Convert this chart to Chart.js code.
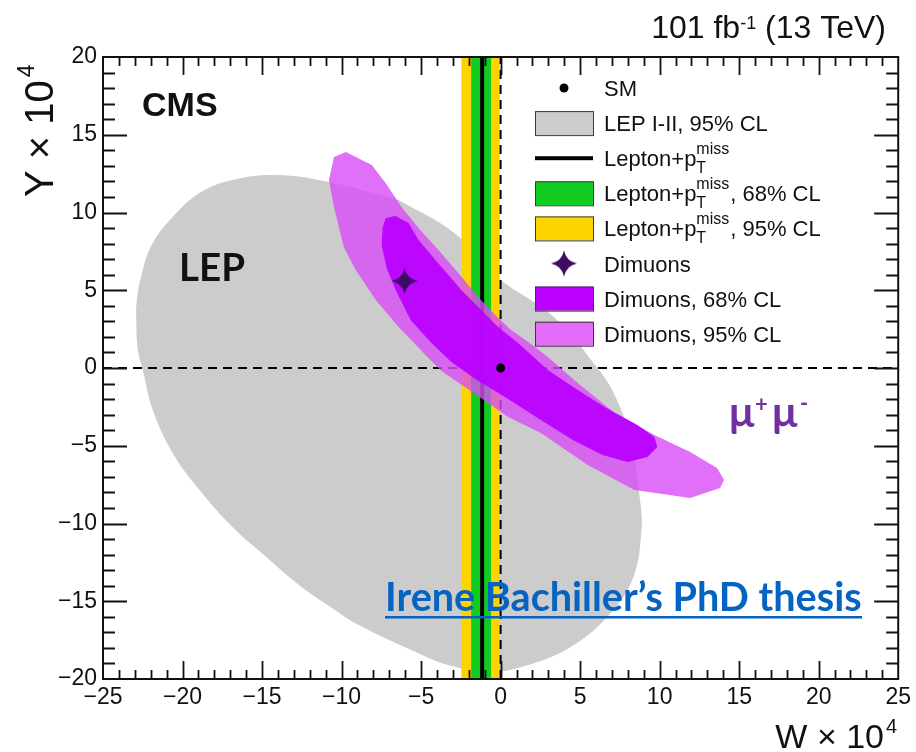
<!DOCTYPE html>
<html>
<head>
<meta charset="utf-8">
<script src="https://cdn.jsdelivr.net/npm/chart.js@4.4.0/dist/chart.umd.min.js"></script>
<style>
  html, body { margin: 0; padding: 0; background: #fff; }
</style>
</head>
<body>
<canvas id="myChart" width="916" height="752" style="width:916px;height:752px;display:block"></canvas>
<script>
// axis ranges (W x 10^4, Y x 10^4)
var xRange = [-25, 25];
var yRange = [-20, 20];

// LEP I-II 95% CL region, starts under the dimuon band
var lepContour = [
    [-6.41, 10.80], [-10.79, 11.96], [-14.11, 12.41], [-16.86, 12.09], [-18.93, 11.25],
    [-20.62, 9.71], [-21.87, 8.04], [-22.50, 6.30], [-22.87, 4.37], [-22.90, 2.89],
    [-22.81, 1.16], [-22.50, -0.13], [-21.87, -2.70], [-20.62, -5.47], [-18.93, -7.85],
    [-16.86, -10.23], [-14.74, -12.15], [-12.67, -13.95], [-10.61, -15.43], [-8.92, -16.53],
    [-5.35, -18.26], [-3.29, -19.10], [-0.84, -19.55], [1.28, -19.23], [4.41, -17.94],
    [6.92, -15.76], [8.35, -13.44], [8.86, -10.42], [8.79, -8.68], [8.17, -4.63],
    [7.17, -1.74], [6.04, 0.06], [3.35, 3.28], [-0.22, 5.85], [-2.91, 8.68]
];

// dimuon contours
var dimuon95 = [
    [-10.48, 13.57], [-9.73, 13.89], [-8.10, 13.05], [-7.23, 11.90], [-6.23, 10.35],
    [-5.16, 9.00], [-3.91, 7.59], [-2.66, 6.11], [-1.41, 4.57], [-0.34, 3.41],
    [0.66, 2.44], [1.91, 1.54], [2.97, 0.71], [4.85, -0.96], [7.17, -2.89],
    [9.67, -4.31], [11.92, -5.40], [13.61, -6.43], [14.05, -7.20], [13.80, -7.72],
    [11.92, -8.36], [8.42, -7.85], [5.48, -6.24], [2.53, -4.18], [0.47, -3.15],
    [-1.60, -1.67], [-3.72, -0.19], [-4.72, 0.84], [-6.41, 2.64], [-7.85, 4.37],
    [-9.11, 6.30], [-9.86, 7.78], [-10.48, 10.35], [-10.79, 12.09]
];
var dimuon68 = [
    [-7.23, 9.65], [-6.60, 9.77], [-5.79, 9.32], [-5.16, 8.23], [-4.10, 6.95],
    [-2.47, 5.02], [-1.22, 3.73], [-0.16, 2.64], [1.10, 1.61], [2.97, -0.13],
    [4.85, -1.41], [6.54, -2.51], [8.60, -3.67], [9.67, -4.44], [9.86, -5.08],
    [9.23, -5.72], [7.98, -6.05], [6.41, -5.59], [4.54, -4.63], [2.53, -3.34],
    [0.47, -1.99], [-1.60, -0.71], [-3.10, 0.39], [-4.35, 1.61], [-5.66, 3.09],
    [-6.54, 4.89], [-7.17, 6.43], [-7.48, 7.91], [-7.42, 9.00]
];
var dimuonBest = [-6.04, 5.6];
var smPoint = [0, 0];

// lepton + pT miss : best fit and bands in W
var leptonBest = -1.16;
var lepton68 = [-1.85, -0.60];
var lepton95 = [-2.47, -0.05];

var legendLabels = ['SM', 'LEP I-II, 95% CL', 'Lepton+p', 'Lepton+p', 'Lepton+p',
    'Dimuons', 'Dimuons, 68% CL', 'Dimuons, 95% CL'];
var legendSuffix = ['', '', '', ', 68% CL', ', 95% CL', '', '', ''];
var legendKinds = ['dot', 'box', 'line', 'box', 'box', 'star', 'box', 'box'];

var colGray = '#cccccc';
var colGreen = '#12cc22';
var colYellow = '#fdd400';
var colDark = 'rgba(186, 0, 255, 0.93)';
var colPink = 'rgba(216, 76, 246, 0.8)';
var colStar = '#3d0b63';
var legendColors = ['#000', colGray, '#000', colGreen, colYellow, colStar, '#bb00ff', '#e46cf8'];

function pts(list) {
    var out = list.map(function (p) { return { x: p[0], y: p[1] }; });
    out.push({ x: list[0][0], y: list[0][1] });
    return out;
}
function band(edges) {
    return pts([[edges[0], yRange[0]], [edges[1], yRange[0]], [edges[1], yRange[1]], [edges[0], yRange[1]]]);
}

// four pointed star marker
function makeStar(size, color) {
    var c = document.createElement('canvas');
    c.width = size; c.height = size;
    var g = c.getContext('2d');
    var m = size / 2, r = size / 2 - 1, k = size * 0.08;
    g.fillStyle = color;
    g.beginPath();
    g.moveTo(m, m - r);
    g.quadraticCurveTo(m + k, m - k, m + r, m);
    g.quadraticCurveTo(m + k, m + k, m, m + r);
    g.quadraticCurveTo(m - k, m + k, m - r, m);
    g.quadraticCurveTo(m - k, m - k, m, m - r);
    g.fill();
    return c;
}
var starImg = makeStar(28, colStar);

function polyDataset(data, color, order, tension) {
    return {
        data: data, order: order, fill: 'shape', backgroundColor: color,
        borderWidth: 0, borderColor: 'rgba(0,0,0,0)', pointRadius: 0, tension: tension || 0
    };
}

function drawSupSub(ctx, x, base, main, sup, sub, rest, size) {
    ctx.font = size + 'px "Liberation Sans", Arial, sans-serif';
    ctx.fillText(main, x, base);
    x += ctx.measureText(main).width;
    if (sup) {
        ctx.font = Math.round(size * 0.72) + 'px "Liberation Sans", Arial, sans-serif';
        var w1 = ctx.measureText(sup).width, w2 = ctx.measureText(sub).width;
        ctx.fillText(sup, x, base - 12);
        ctx.fillText(sub, x, base + 7);
        x += Math.max(w1, w2) + 1;
        ctx.font = size + 'px "Liberation Sans", Arial, sans-serif';
    }
    if (rest) ctx.fillText(rest, x, base);
}

var rootStyle = {
    id: 'rootStyle',
    afterDatasetsDraw: function (chart) {
        var ctx = chart.ctx, a = chart.chartArea;
        var xs = chart.scales.x, ys = chart.scales.y;
        ctx.save();
        ctx.strokeStyle = '#111';
        ctx.lineWidth = 2;
        ctx.strokeRect(a.left, a.top, a.right - a.left, a.bottom - a.top);
        ctx.lineWidth = 1.8;
        ctx.beginPath();
        var v, p, len;
        for (v = xRange[0] + 1; v < xRange[1]; v++) {
            p = Math.round(xs.getPixelForValue(v)) + 0.5;
            len = v % 5 === 0 ? 18 : 9;
            ctx.moveTo(p, a.bottom); ctx.lineTo(p, a.bottom - len);
            ctx.moveTo(p, a.top); ctx.lineTo(p, a.top + len);
        }
        for (v = yRange[0] + 1; v < yRange[1]; v++) {
            p = Math.round(ys.getPixelForValue(v)) + 0.5;
            len = v % 5 === 0 ? 24 : 12;
            ctx.moveTo(a.left, p); ctx.lineTo(a.left + len, p);
            ctx.moveTo(a.right, p); ctx.lineTo(a.right - len, p);
        }
        ctx.stroke();
        ctx.restore();
    },
    afterDraw: function (chart) {
        var ctx = chart.ctx;
        ctx.save();
        ctx.fillStyle = '#111';
        ctx.textBaseline = 'alphabetic';

        // top right lumi label
        ctx.font = '32px "Liberation Sans", Arial, sans-serif';
        var t1 = '101 fb', t3 = ' (13 TeV)';
        var w1 = ctx.measureText(t1).width, w3 = ctx.measureText(t3).width;
        ctx.font = '18px "Liberation Sans", Arial, sans-serif';
        var w2 = ctx.measureText('-1').width;
        var x0 = 886 - (w1 + w2 + w3);
        ctx.font = '32px "Liberation Sans", Arial, sans-serif';
        ctx.fillText(t1, x0, 38);
        ctx.fillText(t3, x0 + w1 + w2, 38);
        ctx.font = '18px "Liberation Sans", Arial, sans-serif';
        ctx.fillText('-1', x0 + w1, 29);

        // axis titles
        ctx.font = '34px "Liberation Sans", Arial, sans-serif';
        var wt = ctx.measureText('W \u00d7 10').width;
        ctx.fillText('W \u00d7 10', 884 - wt, 748);
        ctx.font = '20px "Liberation Sans", Arial, sans-serif';
        ctx.fillText('4', 886, 733);

        ctx.save();
        ctx.translate(53, 197);
        ctx.rotate(-Math.PI / 2);
        ctx.font = '40px "Liberation Sans", Arial, sans-serif';
        var wy = ctx.measureText('Y \u00d7 10').width;
        ctx.fillText('Y \u00d7 10', 0, 0);
        ctx.font = '23px "Liberation Sans", Arial, sans-serif';
        ctx.fillText('4', wy + 3, -19);
        ctx.restore();

        // CMS
        ctx.font = 'bold 34px "Liberation Sans", Arial, sans-serif';
        ctx.fillText('CMS', 142, 116);

        // LEP
        ctx.font = 'bold 40px Lato, "Open Sans", sans-serif';
        var wl = ctx.measureText('LEP').width;
        var fl = 40 * 66 / wl;
        ctx.font = 'bold ' + fl.toFixed(1) + 'px Lato, "Open Sans", sans-serif';
        ctx.fillText('LEP', 179, 281);

        // mu+ mu-
        ctx.fillStyle = '#7030a0';
        ctx.font = 'bold 42px Lato, "Open Sans", sans-serif';
        ctx.fillText('\u03bc', 729, 427);
        ctx.fillText('\u03bc', 772, 427);
        ctx.font = 'bold 22px Lato, "Open Sans", sans-serif';
        ctx.fillText('+', 755, 412);
        ctx.fillText('-', 800, 411);

        // thesis link
        ctx.fillStyle = '#0563c1';
        var link = 'Irene Bachiller\u2019s PhD thesis';
        ctx.font = 'bold 36px Lato, "Open Sans", sans-serif';
        var wlink = ctx.measureText(link).width;
        var fs = 36 * 477 / wlink;
        ctx.font = 'bold ' + fs.toFixed(1) + 'px Lato, "Open Sans", sans-serif';
        ctx.fillText(link, 385, 611);
        ctx.fillRect(385, 616, 477, 2.5);

        // legend
        var rowY = 88, step = 35.1, bx = 535, bw = 58, bh = 24;
        for (var i = 0; i < legendLabels.length; i++) {
            var cy = rowY + i * step;
            var kind = legendKinds[i];
            if (kind === 'dot') {
                ctx.fillStyle = '#000';
                ctx.beginPath();
                ctx.arc(bx + bw / 2, cy, 4.5, 0, Math.PI * 2);
                ctx.fill();
            } else if (kind === 'box') {
                ctx.fillStyle = legendColors[i];
                ctx.fillRect(bx, cy - bh / 2, bw, bh);
                ctx.strokeStyle = '#3a3a3a';
                ctx.lineWidth = 1;
                ctx.strokeRect(bx + 0.5, cy - bh / 2 + 0.5, bw, bh);
            } else if (kind === 'line') {
                ctx.fillStyle = '#000';
                ctx.fillRect(bx, cy - 2, bw, 4);
            } else if (kind === 'star') {
                ctx.drawImage(starImg, bx + bw / 2 - 14, cy - 14);
            }
            ctx.fillStyle = '#111';
            var isLep = legendLabels[i] === 'Lepton+p';
            drawSupSub(ctx, 604, cy + 8, legendLabels[i], isLep ? 'miss' : '', isLep ? 'T' : '',
                legendSuffix[i], 22);
        }
        ctx.restore();
    }
};

var ctx = document.getElementById('myChart');
var myChart = new Chart(ctx, {
    type: 'line',
    data: {
        datasets: [
            polyDataset(pts(lepContour), colGray, 10, 0.4),
            polyDataset(band(lepton95), colYellow, 9),
            polyDataset(band(lepton68), colGreen, 8),
            {
                data: [{ x: leptonBest, y: yRange[0] }, { x: leptonBest, y: yRange[1] }],
                order: 7, borderColor: '#000', borderWidth: 4, pointRadius: 0, fill: false
            },
            {
                data: [{ x: xRange[0], y: 0 }, { x: xRange[1], y: 0 }],
                order: 6, borderColor: '#000', borderWidth: 2, borderDash: [9, 6], pointRadius: 0, fill: false
            },
            {
                data: [{ x: 0, y: yRange[0] }, { x: 0, y: yRange[1] }],
                order: 6, borderColor: '#000', borderWidth: 2, borderDash: [9, 6], pointRadius: 0, fill: false
            },
            polyDataset(pts(dimuon95), colPink, 5),
            polyDataset(pts(dimuon68), colDark, 4),
            {
                data: [{ x: dimuonBest[0], y: dimuonBest[1] }],
                order: 2, showLine: false, pointStyle: starImg, fill: false
            },
            {
                data: [{ x: smPoint[0], y: smPoint[1] }],
                order: 1, showLine: false, pointRadius: 4.5, pointBackgroundColor: '#000',
                pointBorderWidth: 0, fill: false
            }
        ]
    },
    options: {
        responsive: false,
        animation: false,
        events: [],
        layout: { padding: { left: 0, top: 57, right: 14, bottom: 0 } },
        plugins: { legend: { display: false }, tooltip: { enabled: false } },
        scales: {
            x: {
                type: 'linear', min: xRange[0], max: xRange[1],
                grid: { display: false, drawTicks: false, tickLength: 0 }, border: { display: false },
                afterFit: function (s) { s.height = 73; },
                ticks: {
                    stepSize: 5, padding: 5, color: '#111', maxRotation: 0,
                    font: { family: '"Liberation Sans", Arial, sans-serif', size: 23 },
                    callback: function (v) { return v < 0 ? '\u2212' + (-v) : '' + v; }
                }
            },
            y: {
                type: 'linear', min: yRange[0], max: yRange[1],
                grid: { display: false, drawTicks: false, tickLength: 0 }, border: { display: false },
                afterFit: function (s) { s.width = 103; },
                ticks: {
                    stepSize: 5, padding: 6, color: '#111',
                    font: { family: '"Liberation Sans", Arial, sans-serif', size: 23 },
                    callback: function (v) { return v < 0 ? '\u2212' + (-v) : '' + v; }
                }
            }
        }
    },
    plugins: [rootStyle]
});
</script>
</body>
</html>
